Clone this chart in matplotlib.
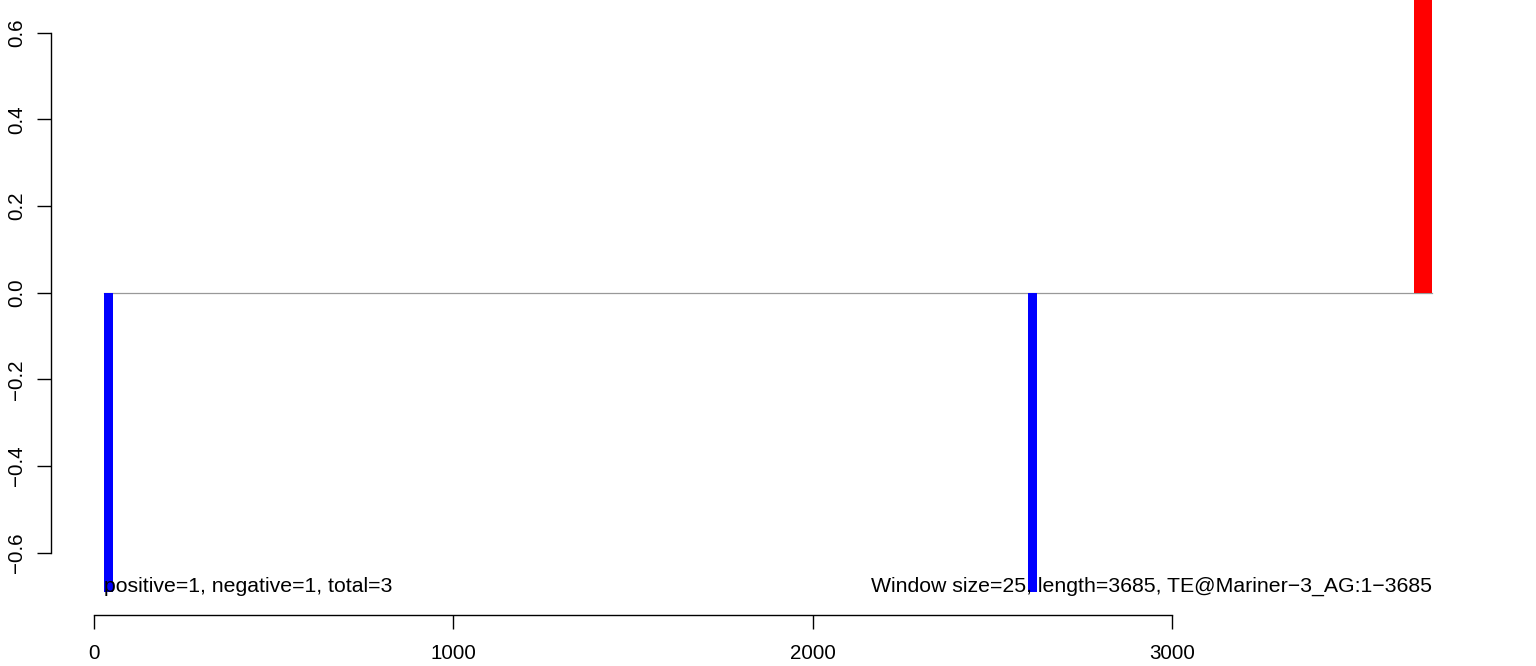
import matplotlib
matplotlib.use("Agg")
import matplotlib.pyplot as plt
from matplotlib.patches import Rectangle

plt.rcParams['font.family'] = ['Liberation Sans', 'DejaVu Sans']

# Data: windows (start, end) and their scores
win_start = [28, 2599, 3674]
win_end = [53, 2624, 3724]
win_value = [-0.690, -0.690, 0.690]
win_color = ['#0000FF', '#0000FF', '#FF0000']

x_ticks = [0, 1000, 2000, 3000]
y_ticks = [-0.6, -0.4, -0.2, 0.0, 0.2, 0.4, 0.6]
y_ticklabels = ['\u22120.6', '\u22120.4', '\u22120.2', '0.0', '0.2', '0.4', '0.6']

left_text = "positive=1, negative=1, total=3"
right_text = "Window size=25, length=3685, TE@Mariner\u22123_AG:1\u22123685"

W, H = 1536, 666
fig = plt.figure(figsize=(W / 100, H / 100), dpi=100)
ax = fig.add_axes([0, 0, 1, 1])

# pixel mapping helpers (axis geometry only)
x0px, xscale = 94.0, 0.35933
y0px, yscale = 292.7, 433.3
ax.set_xlim(-x0px / xscale, (W - x0px) / xscale)
ax.set_ylim(-(H - y0px) / yscale, y0px / yscale)

# zero line
ax.plot([min(win_start), max(win_end)], [0, 0], color='#999999', lw=0.9, zorder=1)

for s, e, v, c in zip(win_start, win_end, win_value, win_color):
    ax.add_patch(Rectangle((s, 0), e - s, v, facecolor=c, edgecolor='none', zorder=2))

ymin = min(win_value)
ax.text(min(win_start), ymin, left_text, ha='left', va='baseline', fontsize=15.3, zorder=3)
ax.text(max(win_end), ymin, right_text, ha='right', va='baseline', fontsize=15.3, zorder=3)

# axes styling like R base graphics
for side in ['top', 'right']:
    ax.spines[side].set_visible(False)
ax.spines['left'].set_position(('data', (50.7 - x0px) / xscale))
ax.spines['left'].set_bounds(-0.6, 0.6)
ax.spines['bottom'].set_position(('data', (y0px - 615) / yscale))
ax.spines['bottom'].set_bounds(0, 3000)
for sp in ['left', 'bottom']:
    ax.spines[sp].set_linewidth(1.0)

ax.set_xticks(x_ticks)
ax.set_xticklabels([str(t) for t in x_ticks])
ax.set_yticks(y_ticks)
ax.set_yticklabels(y_ticklabels, rotation=90, va='center')
ax.tick_params(axis='both', length=10, width=1.0, labelsize=14.8)
ax.tick_params(axis='x', pad=11)
ax.tick_params(axis='y', pad=7.5)
ax.patch.set_visible(False)

fig.savefig('out.png', dpi=100)
